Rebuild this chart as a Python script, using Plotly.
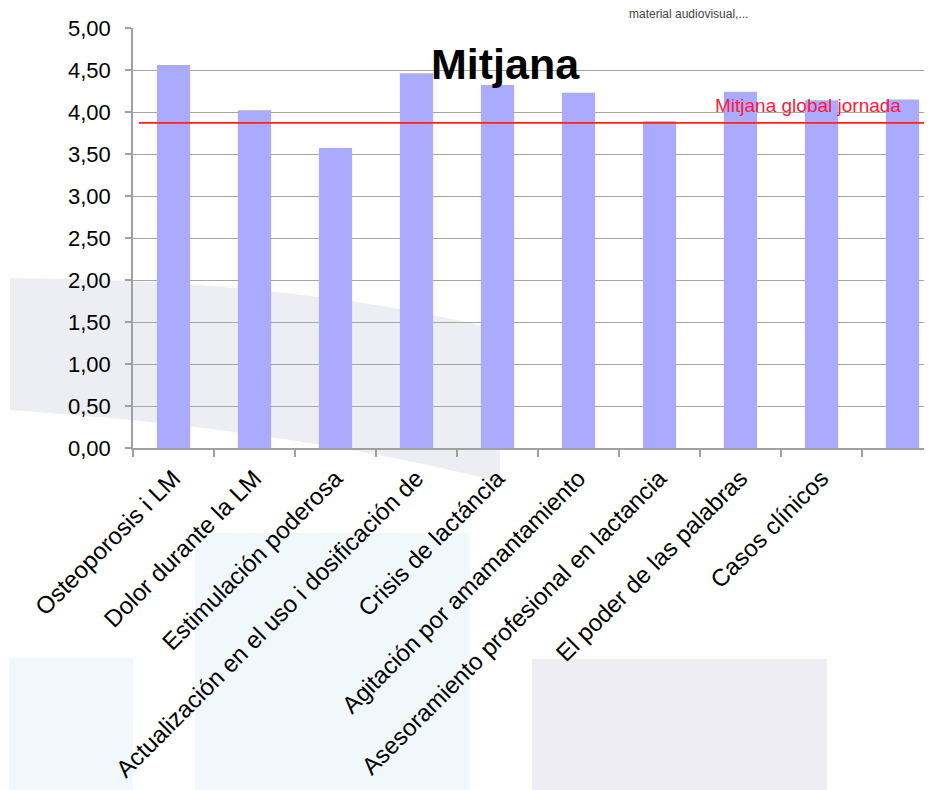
import plotly.graph_objects as go

# ---- data ----
categories = [
    "Osteoporosis i LM",
    "Dolor durante la LM",
    "Estimulación poderosa",
    "Actualización en el uso i dosificación de",
    "Crisis de lactáncia",
    "Agitación por amamantamiento",
    "Asesoramiento profesional en lactancia",
    "El poder de las palabras",
    "Casos clínicos",
    "material audiovisual,...",
]
tick_labels = categories[:9] + [""]
values = [4.56, 4.02, 3.57, 4.46, 4.32, 4.23, 3.89, 4.24, 4.14, 4.15]
global_mean = 3.87
global_label = "Mitjana global jornada"
title_text = "Mitjana"
y_tickvals = [0, 0.5, 1, 1.5, 2, 2.5, 3, 3.5, 4, 4.5, 5]
y_ticktext = ["0,00", "0,50", "1,00", "1,50", "2,00", "2,50", "3,00", "3,50", "4,00", "4,50", "5,00"]

# ---- layout geometry (page pixels; page body has an 8px margin) ----
OFF = 8
PAGE_W, PAGE_H = 932, 790
W, H = PAGE_W - OFF, PAGE_H - OFF
AX_L, AX_T, AX_B = 133, 28, 448          # plot area edges in page pixels
L, T = AX_L - OFF, AX_T - OFF
B = H - (AX_B - OFF)
PW = W - L
PH = AX_B - AX_T


def px(x):
    return (x - AX_L) / PW


def py(y):
    return (AX_B - y) / PH


FONT = "Liberation Sans, Arial, sans-serif"

fig = go.Figure()
fig.add_trace(go.Bar(
    x=categories, y=values,
    marker=dict(color="#AAAAFF", line=dict(width=0)),
    width=0.41,
    showlegend=False,
))

shapes = []
swoosh = (f"M {px(10)},{py(278)} Q {px(300)},{py(280)} {px(500)},{py(330)} "
          f"L {px(500)},{py(482)} Q {px(300)},{py(430)} {px(10)},{py(410)} Z")
shapes.append(dict(type="path", path=swoosh, xref="paper", yref="paper",
                   fillcolor="#EDEEF3", line=dict(width=0), layer="below"))
for (x0, y0, x1, y1, c) in [(9, 658, 133, 800, "#F1F8FC"),
                            (195, 533, 470, 800, "#F1F8FC"),
                            (532, 659, 827, 800, "#EDEDF3")]:
    shapes.append(dict(type="rect", xref="paper", yref="paper",
                       x0=px(x0), x1=px(x1), y0=py(y1), y1=py(y0),
                       fillcolor=c, line=dict(width=0), layer="below"))
shapes.append(dict(type="line", xref="paper", yref="y",
                   x0=px(139), x1=1, y0=global_mean, y1=global_mean,
                   line=dict(color="#FF2020", width=1.6), layer="above"))

annotations = [
    dict(text=f"<b>{title_text}</b>", xref="paper", yref="paper",
         x=px(505), y=py(64), xanchor="center", yanchor="middle",
         showarrow=False, font=dict(family=FONT, size=43, color="#000000")),
    dict(text=global_label, xref="paper", yref="y",
         x=px(903), y=global_mean, xanchor="right", yanchor="bottom", yshift=5,
         showarrow=False, font=dict(family=FONT, size=19, color="#FF1A3A")),
    dict(text=categories[9], xref="paper", yref="paper",
         x=px(688), y=py(14), xanchor="center", yanchor="middle",
         showarrow=False, font=dict(family=FONT, size=12, color="#444444")),
]

fig.update_layout(
    width=W, height=H,
    margin=dict(l=L, r=0, t=T, b=B, autoexpand=False),
    paper_bgcolor="white",
    plot_bgcolor="rgba(0,0,0,0)",
    shapes=shapes,
    annotations=annotations,
    font=dict(family=FONT, color="#000000"),
    xaxis=dict(
        type="category",
        range=[-0.5, -0.5 + PW / 81.0],
        tickvals=categories, ticktext=tick_labels,
        tickangle=-45,
        tickson="boundaries",
        ticks="outside", ticklen=7, tickcolor="#A0A0A0", tickwidth=1.5,
        showline=True, linecolor="#A0A0A0", linewidth=1.5,
        showgrid=False,
        tickfont=dict(family=FONT, size=24, color="#000000"),
        ticklabelstandoff=5,
        automargin=False,
    ),
    yaxis=dict(
        range=[0, 5],
        tickvals=y_tickvals, ticktext=y_ticktext,
        ticks="outside", ticklen=6, tickcolor="#A0A0A0", tickwidth=1.5,
        showline=True, linecolor="#A0A0A0", linewidth=1.5,
        showgrid=True, gridcolor="#A6A6A6", gridwidth=1.4,
        zeroline=False,
        tickfont=dict(family=FONT, size=22, color="#000000"),
        ticklabelstandoff=10,
        automargin=False,
    ),
)

fig.write_html("out.html")
